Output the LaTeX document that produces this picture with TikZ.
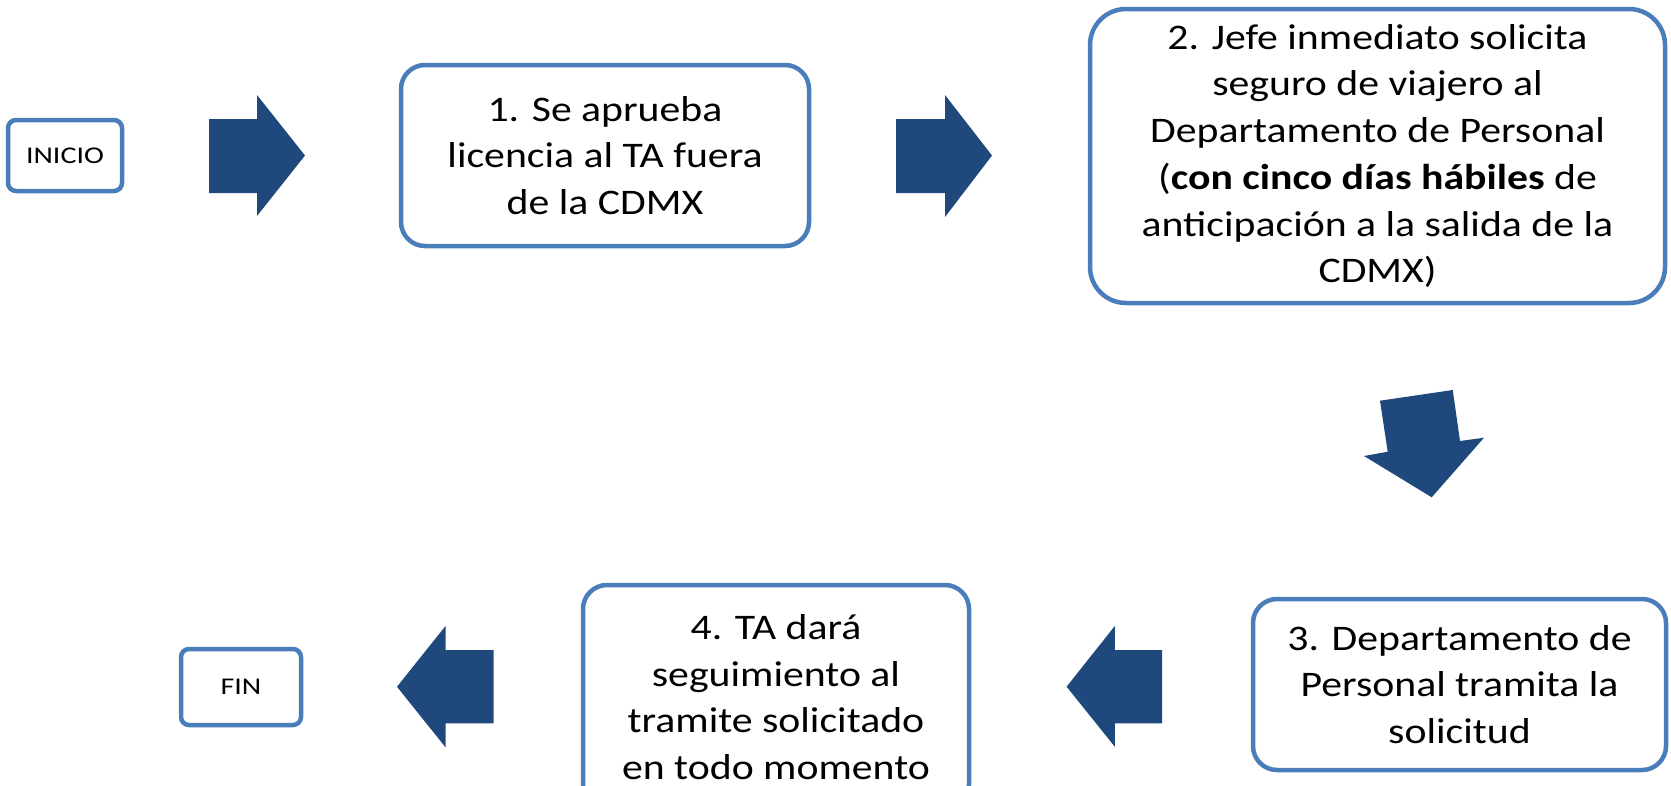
\documentclass[tikz,border=0pt]{standalone}
\usepackage{fontspec}
\setmainfont{Carlito}[FakeStretch=1.16]
\newfontfamily\smallfont{Carlito}[FakeStretch=1.25]
\definecolor{boxline}{HTML}{4A7EBB}
\definecolor{arrowfill}{HTML}{1F497D}
\begin{document}
\begin{tikzpicture}[x=1pt,y=-1pt,
  stepbox/.style={draw=boxline, line width=4.5pt, rounded corners=#1, fill=white,
    align=center, inner sep=0pt, font=\fontsize{36}{46.7}\selectfont},
  endbox/.style={draw=boxline, line width=4.5pt, rounded corners=8pt, fill=white,
    align=center, inner sep=0pt, font=\smallfont\fontsize{24}{28}\selectfont},
  blockarrow/.style={fill=arrowfill, draw=none}]
\useasboundingbox (0,0) rectangle (1671,785);
\clip (0,0) rectangle (1671,785);

\node[endbox, minimum width=114pt, minimum height=71pt] (inicio) at (65,155.5) {INICIO};
\node[stepbox=24pt, minimum width=408pt, minimum height=181pt] (s1) at (605,155.5)
  {1. Se aprueba\\licencia al TA fuera\\de la CDMX};
\node[stepbox=36pt, minimum width=575pt, minimum height=294pt] (s2) at (1377.5,156)
  {2. Jefe inmediato solicita\\seguro de viajero al\\Departamento de Personal\\(\textbf{con cinco días hábiles} de\\anticipación a la salida de la\\CDMX)};
\node[stepbox=24pt, minimum width=413pt, minimum height=171pt] (s3) at (1459.5,684.5)
  {3. Departamento de\\Personal tramita la\\solicitud};
\node[stepbox=24pt, minimum width=386pt, minimum height=224pt] (s4) at (776,697)
  {4. TA dará\\seguimiento al\\tramite solicitado\\en todo momento};
\node[endbox, minimum width=120pt, minimum height=76pt] (fin) at (241,687) {FIN};

% block arrows
\fill[blockarrow] (209,119) -- (257,119) -- (257,95) -- (305,155.5) -- (257,216) -- (257,193) -- (209,193) -- cycle;
\fill[blockarrow] (896,119) -- (945,119) -- (945,95) -- (992,155.5) -- (945,217) -- (945,193) -- (896,193) -- cycle;
\fill[blockarrow] (1380,400.7) -- (1452.7,390) -- (1460,441) -- (1484,437.7) -- (1431.7,497.3) -- (1364,456) -- (1387.7,451.7) -- cycle;
\fill[blockarrow] (1162,650) -- (1114.8,650) -- (1114.8,626) -- (1066.6,686.7) -- (1114.8,746.7) -- (1114.8,723.3) -- (1162,723.3) -- cycle;
\fill[blockarrow] (493.7,650) -- (445.5,650) -- (445.5,626) -- (397,686.7) -- (445.5,747.3) -- (445.5,723.3) -- (493.7,723.3) -- cycle;
\end{tikzpicture}
\end{document}
